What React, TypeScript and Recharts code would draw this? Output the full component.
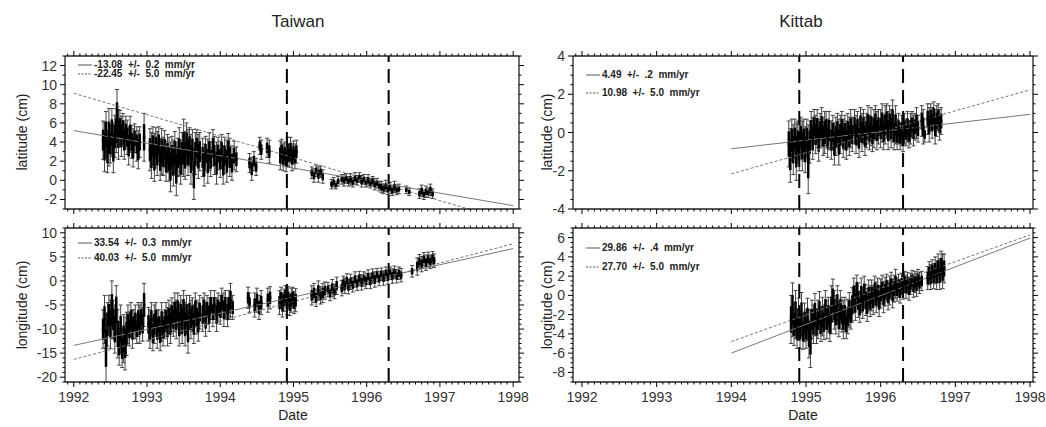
import React from 'react';
import { ComposedChart, Scatter, Line, XAxis, YAxis, ReferenceLine, ErrorBar } from 'recharts';

// [date (yr), value (cm), error (cm)]
type Pt = [number, number, number];
type Fit = [number, number][];

const EVENTS = [1994.91, 1996.3];
const YEARS = [1992, 1993, 1994, 1995, 1996, 1997, 1998];

const TW_LAT: Pt[] = [
  [1992.40,4.2,2.0],[1992.42,3.5,2.6],[1992.44,4.8,2.4],[1992.46,3.0,2.2],[1992.48,4.5,3.0],[1992.50,3.8,2.0],
  [1992.52,5.0,2.5],[1992.54,3.4,2.6],[1992.56,4.6,2.2],[1992.58,5.2,2.3],[1992.59,6.5,3.0],[1992.61,4.8,2.6],
  [1992.63,5.5,1.8],[1992.65,4.6,2.1],[1992.67,5.4,1.6],[1992.69,4.2,2.0],[1992.71,5.0,1.7],[1992.73,4.5,1.8],
  [1992.75,3.6,2.0],[1992.77,4.8,1.9],[1992.79,4.0,1.7],[1992.81,3.4,2.0],[1992.83,4.4,1.5],[1992.86,3.8,1.8],
  [1992.88,3.2,2.0],[1992.90,4.0,1.6],[1992.96,4.5,2.5],
  [1993.04,3.2,2.2],[1993.06,2.6,2.4],[1993.08,3.6,2.0],[1993.10,2.4,2.5],[1993.12,3.4,2.1],[1993.14,2.8,2.3],
  [1993.16,3.8,1.8],[1993.18,2.2,2.2],[1993.20,3.0,2.4],[1993.22,2.5,2.0],[1993.24,3.3,1.9],[1993.26,2.0,2.1],
  [1993.28,2.8,2.0],[1993.30,2.2,2.3],[1993.32,1.4,2.6],[1993.34,2.6,2.0],[1993.36,1.8,2.4],[1993.38,2.9,2.2],
  [1993.40,1.2,2.8],[1993.42,2.4,2.0],[1993.44,3.0,2.5],[1993.46,1.9,2.3],[1993.48,2.8,2.2],
  [1993.50,3.4,3.0],[1993.52,2.6,2.5],[1993.54,3.8,2.2],[1993.56,2.9,2.4],[1993.58,3.5,2.0],[1993.60,2.2,2.6],
  [1993.62,3.2,2.1],[1993.64,0.6,2.6],[1993.66,2.8,2.2],[1993.68,3.4,1.9],[1993.70,2.5,2.3],[1993.72,3.0,2.0],
  [1993.76,2.4,2.0],[1993.78,1.6,2.2],[1993.80,2.8,1.8],[1993.83,2.0,2.3],[1993.85,3.0,2.0],[1993.87,2.2,1.8],
  [1993.90,3.4,1.9],[1993.92,2.6,2.0],[1993.95,1.8,2.2],[1993.97,2.8,1.7],
  [1994.00,2.2,1.9],[1994.02,3.0,1.8],[1994.04,1.6,2.0],[1994.06,2.6,1.9],[1994.09,2.0,2.2],[1994.11,3.2,1.7],
  [1994.13,2.4,2.0],[1994.16,1.8,1.8],[1994.19,2.6,1.5],[1994.22,2.2,1.3],
  [1994.40,1.8,1.0],[1994.43,1.2,1.2],[1994.46,2.0,1.0],[1994.49,1.4,0.9],[1994.54,3.6,0.9],[1994.56,3.2,1.0],
  [1994.64,3.4,1.0],[1994.67,3.0,1.2],
  [1994.82,2.6,1.5],[1994.84,3.0,1.3],[1994.86,2.4,1.4],[1994.88,2.8,1.2],[1994.90,2.2,1.3],[1994.92,3.0,1.5],
  [1994.94,2.6,1.2],[1994.96,3.2,1.3],[1994.98,2.4,1.4],[1995.00,2.9,1.2],[1995.02,2.5,1.3],[1995.04,3.0,1.2],
  [1995.25,0.8,0.6],[1995.28,0.5,0.7],[1995.31,1.0,0.6],[1995.34,0.6,0.8],[1995.37,0.9,0.6],[1995.40,0.4,0.7],
  [1995.52,-0.4,0.5],[1995.55,-0.2,0.5],[1995.58,-0.5,0.4],[1995.61,-0.1,0.5],
  [1995.66,0.1,0.5],[1995.69,0.0,0.6],[1995.72,0.2,0.5],[1995.75,-0.1,0.5],[1995.78,0.1,0.6],[1995.81,-0.2,0.5],
  [1995.84,0.2,0.6],[1995.87,0.0,0.5],[1995.90,0.3,0.5],[1995.93,-0.1,0.6],[1995.96,0.1,0.5],[1995.99,-0.2,0.5],
  [1996.02,0.0,0.6],[1996.05,-0.3,0.5],[1996.08,-0.1,0.5],[1996.11,-0.4,0.6],[1996.14,-0.3,0.5],[1996.17,-0.6,0.5],
  [1996.20,-0.7,0.6],[1996.23,-0.9,0.5],[1996.26,-0.6,0.6],[1996.29,-1.0,0.5],[1996.32,-0.8,0.6],[1996.35,-1.1,0.5],
  [1996.38,-0.7,0.6],[1996.41,-1.0,0.5],[1996.44,-0.9,0.5],[1996.54,-1.0,0.4],[1996.58,-1.2,0.4],
  [1996.72,-1.4,0.5],[1996.75,-1.1,0.6],[1996.78,-1.5,0.5],[1996.81,-1.2,0.6],[1996.84,-1.3,0.5],[1996.87,-1.0,0.6],
  [1996.90,-1.4,0.5],
];

const TW_LON: Pt[] = [
  [1992.40,-10,4],[1992.42,-8,5],[1992.44,-14,7],[1992.46,-9,4.5],[1992.48,-7,4],[1992.50,-9,5],[1992.52,-6,6],
  [1992.54,-8,4],[1992.56,-10,5],[1992.58,-6,5],[1992.60,-11,5],[1992.62,-13,4.5],[1992.64,-10,5],[1992.66,-14,4],
  [1992.68,-12,5],[1992.70,-13,5.5],[1992.72,-11,4.5],[1992.74,-9,4],[1992.76,-10,3.5],[1992.78,-8,3.5],
  [1992.80,-10,4],[1992.82,-9,3],[1992.84,-8.5,3.5],[1992.86,-10,3],[1992.88,-8,3.5],[1992.90,-9,4],
  [1992.92,-7.5,3],[1992.94,-9,3.5],[1992.96,-5,4.5],
  [1993.02,-9,3.5],[1993.04,-10,4],[1993.06,-8,3.5],[1993.08,-11,3.5],[1993.10,-9,4],[1993.12,-8,3.5],
  [1993.14,-10,4],[1993.16,-9,3],[1993.18,-11,3.5],[1993.20,-8.5,4],[1993.22,-10,3.5],[1993.24,-9,3],
  [1993.26,-8,3.5],[1993.28,-9.5,4],[1993.30,-7.5,3.5],[1993.32,-9,4],[1993.34,-7,3.5],[1993.36,-8,3.5],
  [1993.38,-6.5,4],[1993.40,-8,4],[1993.42,-6,3.5],[1993.44,-9,4.5],[1993.46,-7,4],[1993.48,-8.5,4.5],
  [1993.50,-6,4],[1993.52,-9,4.5],[1993.54,-7,4],[1993.56,-10,5],[1993.58,-6.5,3.5],[1993.60,-8,4],
  [1993.62,-7,3.5],[1993.64,-9,4],[1993.66,-6,3.5],[1993.68,-7.5,3.5],[1993.70,-8.5,4],[1993.72,-6.5,3.5],
  [1993.76,-7,3.5],[1993.78,-5.5,3],[1993.80,-8,3.5],[1993.82,-6,3],[1993.85,-7,3.5],[1993.87,-5,3],
  [1993.90,-6.5,3],[1993.92,-5,3],[1993.95,-7,3.5],[1993.97,-5.5,3],[1994.00,-6,3],[1994.02,-4.5,3],
  [1994.05,-6,3.5],[1994.07,-5,3],[1994.10,-6.5,3],[1994.12,-5,3],[1994.14,-4,3.5],[1994.17,-5.5,2.5],
  [1994.38,-3.5,2.2],[1994.40,-4.5,2],[1994.47,-5,2.5],[1994.50,-4,2.5],[1994.53,-5.5,2.5],[1994.56,-4.5,2.5],
  [1994.65,-4,2.5],[1994.68,-3.5,2.3],
  [1994.81,-4.5,2.5],[1994.83,-3.5,2.2],[1994.85,-5,2.5],[1994.87,-4,2.3],[1994.89,-3,2],[1994.91,-4.5,2.5],
  [1994.93,-3.5,2.3],[1994.95,-5,2.2],[1994.97,-4,2.5],[1994.99,-3.5,2.2],[1995.01,-4.5,2.3],[1995.03,-4,2.4],
  [1995.25,-3,2],[1995.28,-2.5,2],[1995.31,-3.5,1.8],[1995.34,-2,2],[1995.37,-3,1.8],[1995.40,-2.5,2],[1995.43,-2,1.8],
  [1995.47,-1.8,1.5],[1995.50,-2.5,1.6],[1995.53,-1.5,1.8],[1995.56,-2.2,1.5],[1995.59,-1,1.8],
  [1995.66,-1.5,1.6],[1995.68,-0.5,1.5],[1995.70,-1,1.6],[1995.73,0,1.5],[1995.75,-1.2,1.5],[1995.78,-0.2,1.6],
  [1995.81,-0.8,1.5],[1995.84,0.3,1.6],[1995.87,-0.5,1.5],[1995.90,0.5,1.5],[1995.93,-0.3,1.6],[1995.96,0.4,1.5],
  [1995.99,0,1.6],[1996.02,0.8,1.5],[1996.05,0,1.6],[1996.08,1,1.5],[1996.11,0.3,1.6],[1996.14,1.2,1.4],
  [1996.17,0.5,1.5],[1996.20,1.4,1.3],[1996.23,0.6,1.5],[1996.26,1.5,1.4],[1996.29,0.8,1.5],[1996.32,1.6,1.3],
  [1996.35,1,1.5],[1996.38,1.8,1.3],[1996.41,1,1.4],[1996.44,1.6,1.3],[1996.47,1.2,1.4],[1996.62,2,1.2],
  [1996.69,3,1.8],[1996.72,4,1.5],[1996.75,3.5,1.6],[1996.78,4.5,1.4],[1996.81,3.8,1.6],[1996.84,4.5,1.5],
  [1996.87,4,1.4],[1996.90,4.8,1.3],[1996.92,4.2,1.4],
];

const KT_LAT: Pt[] = [
  [1994.77,-0.6,1.2],[1994.79,-1.2,1.4],[1994.81,-0.4,1.1],[1994.83,-0.9,1.3],[1994.85,-0.3,1.0],[1994.87,-1.0,1.5],
  [1994.89,-0.5,1.1],[1994.91,-0.8,1.2],[1994.93,-0.2,1.0],[1994.95,-0.7,1.3],[1994.97,-0.4,1.1],[1994.99,-0.9,1.2],
  [1995.01,-0.3,1.0],[1995.03,-1.4,1.8],[1995.05,-0.5,1.1],
  [1995.07,0.1,1.0],[1995.09,-0.3,1.1],[1995.11,0.3,0.9],[1995.13,-0.1,1.0],[1995.15,0.2,1.0],[1995.17,-0.4,1.1],
  [1995.19,0.1,0.9],[1995.21,0.3,1.0],[1995.23,-0.2,1.0],[1995.25,0.0,1.1],[1995.27,0.2,0.9],[1995.29,-0.3,1.0],
  [1995.31,0.1,1.0],[1995.34,-0.4,1.0],[1995.36,0.0,0.9],[1995.38,-0.6,1.1],[1995.40,-0.2,1.0],[1995.42,0.1,0.9],
  [1995.44,-0.5,1.2],[1995.46,-0.1,1.0],[1995.48,0.2,0.9],[1995.50,-0.3,1.0],[1995.52,0.0,0.9],[1995.54,-0.4,1.0],
  [1995.56,0.1,0.9],[1995.58,-0.2,1.0],[1995.60,0.2,1.0],[1995.62,-0.1,0.9],
  [1995.65,0.3,0.9],[1995.67,-0.1,1.0],[1995.69,0.2,0.9],[1995.71,-0.3,1.0],[1995.73,0.4,0.9],[1995.75,0.0,1.0],
  [1995.77,0.3,0.9],[1995.79,-0.2,1.0],[1995.81,0.1,0.9],[1995.83,0.4,1.0],[1995.85,0.0,0.9],[1995.87,0.3,1.0],
  [1995.89,-0.1,0.9],[1995.91,0.2,1.0],[1995.93,0.5,0.9],[1995.95,0.1,1.0],[1995.97,0.3,0.9],
  [1996.00,0.2,1.0],[1996.02,0.5,1.0],[1996.04,0.0,0.9],[1996.06,0.4,1.0],[1996.08,0.6,0.9],[1996.10,0.1,1.0],
  [1996.12,0.5,0.9],[1996.14,0.2,1.0],[1996.16,0.6,1.1],[1996.18,0.0,0.9],[1996.20,0.4,1.0],
  [1996.22,-0.1,0.8],[1996.24,0.2,0.8],[1996.26,-0.2,0.7],[1996.28,0.1,0.8],[1996.30,-0.3,0.7],[1996.32,0.2,0.8],
  [1996.34,0.0,0.7],[1996.36,0.3,0.8],[1996.38,-0.1,0.7],[1996.40,0.2,0.8],[1996.42,0.4,0.7],[1996.44,0.1,0.8],
  [1996.46,0.3,0.7],[1996.48,0.5,0.8],[1996.50,0.2,0.7],
  [1996.55,0.6,0.8],[1996.57,0.3,0.9],[1996.59,-0.1,0.4],[1996.63,0.7,0.8],[1996.65,0.4,0.9],[1996.67,0.8,0.7],
  [1996.69,0.5,0.8],[1996.71,0.9,0.7],[1996.73,0.3,0.9],[1996.75,0.6,0.8],[1996.77,0.8,0.7],[1996.79,0.4,0.8],
  [1996.81,0.6,0.7],
];

const KT_LON: Pt[] = [
  [1994.80,-2.5,2.5],[1994.82,-1.5,2.8],[1994.84,-3,2.2],[1994.86,-2,2.5],[1994.88,-3.5,2],
  [1994.90,-2.5,2.2],[1994.92,-3.5,2],[1994.94,-2,2.3],[1994.96,-3.8,1.8],[1994.98,-2.8,2],[1995.00,-3.5,2],
  [1995.02,-2.5,2.2],[1995.04,-4,2.5],[1995.06,-4.5,3],
  [1995.08,-2.5,2],[1995.10,-3,2],[1995.12,-2,2.2],[1995.14,-3.2,1.8],[1995.16,-2.5,2],[1995.18,-1.8,2.2],
  [1995.20,-3,1.8],[1995.22,-2.2,2],[1995.24,-2.8,1.8],[1995.26,-1.5,2],[1995.28,-2.5,2],[1995.30,-2,1.8],
  [1995.32,-3,1.8],[1995.34,-1.5,2.5],[1995.36,-0.5,2.2],[1995.38,-1.5,2],[1995.40,-2,2],[1995.42,-1,2],
  [1995.44,-2.5,1.8],[1995.46,-1.5,2],[1995.48,-2,1.8],[1995.50,-2.5,2],[1995.52,-2,1.8],[1995.54,-3,1.5],
  [1995.56,-2.2,1.8],[1995.58,-1.5,1.8],[1995.60,-2,1.5],
  [1995.62,-1,1.8],[1995.64,0,1.8],[1995.66,-0.8,1.8],[1995.68,0.5,1.6],[1995.70,-0.5,1.8],[1995.72,-1.2,1.6],
  [1995.74,0,1.8],[1995.76,-0.8,1.6],[1995.78,0.3,1.7],[1995.80,-0.5,1.6],[1995.82,-1,1.7],[1995.84,0,1.6],
  [1995.86,-0.6,1.6],[1995.88,0,1.6],[1995.90,-0.5,1.5],[1995.92,0.5,1.5],[1995.94,-0.2,1.6],[1995.96,0.3,1.5],
  [1995.98,-0.6,1.6],[1996.00,0.2,1.5],[1996.02,0.6,1.5],[1996.04,-0.2,1.6],[1996.06,0.4,1.5],[1996.08,0.8,1.4],
  [1996.10,0,1.5],[1996.12,0.5,1.5],[1996.14,1,1.4],[1996.16,0.2,1.5],[1996.18,0.7,1.4],[1996.20,1.2,1.5],
  [1996.22,0.6,1.2],[1996.24,1,1.2],[1996.26,0.4,1.2],[1996.28,1.2,1.1],[1996.30,0.8,1.2],[1996.32,1.4,1.1],
  [1996.34,0.9,1.2],[1996.36,1.3,1.1],[1996.38,0.7,1.2],[1996.40,1.2,1.1],[1996.42,1.5,1.1],[1996.44,1,1.2],
  [1996.46,1.4,1.1],[1996.48,1.1,1.2],[1996.50,1.6,1.1],[1996.52,1.3,1.1],[1996.55,1.5,1],
  [1996.63,1.8,1.2],[1996.65,2.3,1.2],[1996.67,1.9,1.3],[1996.69,2.5,1.2],[1996.71,2,1.3],[1996.73,2.6,1.4],
  [1996.75,2.1,1.5],[1996.77,2.8,1.5],[1996.79,2.2,1.6],[1996.81,3,1.6],[1996.83,2.5,1.8],[1996.85,2.8,1.5],
];

// fitted trends: solid = fit, dashed = model
const TW_LAT_FIT: Fit = [[1992, 5.2], [1998, -2.65]];
const TW_LAT_FIT2: Fit = [[1992, 9.1], [1998, -4.37]];
const TW_LON_FIT: Fit = [[1992, -13.4], [1998, 6.72]];
const TW_LON_FIT2: Fit = [[1992, -16.3], [1998, 7.72]];
const KT_LAT_FIT: Fit = [[1994, -0.85], [1998, 0.95]];
const KT_LAT_FIT2: Fit = [[1994, -2.16], [1998, 2.23]];
const KT_LON_FIT: Fit = [[1994, -6.0], [1998, 5.95]];
const KT_LON_FIT2: Fit = [[1994, -4.8], [1998, 6.28]];

const TW_LAT_RATES = ['-13.08  +/-  0.2  mm/yr', '-22.45  +/-  5.0  mm/yr'];
const TW_LON_RATES = ['33.54  +/-  0.3  mm/yr', '40.03  +/-  5.0  mm/yr'];
const KT_LAT_RATES = ['4.49  +/-  .2  mm/yr', '10.98  +/-  5.0  mm/yr'];
const KT_LON_RATES = ['29.86  +/-  .4  mm/yr', '27.70  +/-  5.0  mm/yr'];

const TW_LAT_TICKS = [-2, 0, 2, 4, 6, 8, 10, 12];
const TW_LON_TICKS = [-20, -15, -10, -5, 0, 5, 10];
const KT_LAT_TICKS = [-4, -2, 0, 2, 4];
const KT_LON_TICKS = [-8, -6, -4, -2, 0, 2, 4, 6];

const FONT = '"Liberation Sans", Arial, Helvetica, sans-serif';

const steps = (lo: number, hi: number, step: number) => {
  const out: number[] = [];
  for (let i = Math.ceil(lo / step - 1e-9); i * step <= hi + 1e-9; i++) out.push(+(i * step).toFixed(4));
  return out;
};

type PanelProps = {
  left: number; top: number; w: number; h: number;
  xDomain: [number, number]; yDomain: [number, number];
  yTicks: number[]; yMinor: number;
  pts: Pt[]; fit: Fit; fit2: Fit;
  rates: string[]; rateTop: number; rateGap: number;
  xLabels: boolean;
};

// axis band sizes (plot area = chart minus margin minus these)
const AX = { top: 10, bottom: 30, left: 40, right: 10 };

function Panel(p: PanelProps) {
  const M = { top: 2, right: 4, bottom: 14, left: 12 };
  const W = p.w + M.left + M.right + AX.left + AX.right;
  const H = p.h + M.top + M.bottom + AX.top + AX.bottom;
  const rows = p.pts.map(([x, y, e]) => ({ x, y, e, c: e * 0.55 }));
  const fitRows = p.fit.map(([x, y]) => ({ x, y }));
  const fit2Rows = p.fit2.map(([x, y]) => ({ x, y }));
  const xt = steps(p.xDomain[0], p.xDomain[1], 1 / 12);
  const yt = steps(p.yDomain[0], p.yDomain[1], p.yMinor);
  const isYear = (v: number) => Math.abs(v - Math.round(v)) < 1e-3 && YEARS.includes(Math.round(v));
  const isMajorY = (v: number) => p.yTicks.some((m) => Math.abs(m - v) < 1e-6);

  const xTick = (side: 'top' | 'bottom', labels: boolean) => (t: any) => {
    const major = isYear(t.payload.value);
    const d = side === 'top' ? -1 : 1;
    return (
      <g>
        <line x1={t.x} x2={t.x} y1={t.y} y2={t.y + d * (major ? 5 : 2.5)} stroke="#000" />
        {labels && major && (
          <text x={t.x} y={t.y + 20} textAnchor="middle" fontSize={14} fontFamily={FONT} fill="#333">
            {Math.round(t.payload.value)}
          </text>
        )}
      </g>
    );
  };
  const yTick = (side: 'left' | 'right') => (t: any) => {
    const major = isMajorY(t.payload.value);
    const d = side === 'left' ? -1 : 1;
    return (
      <g>
        <line x1={t.x} x2={t.x + d * (major ? 5 : 2.5)} y1={t.y} y2={t.y} stroke="#000" />
        {side === 'left' && major && (
          <text x={t.x - 8} y={t.y} dy="0.36em" textAnchor="end" fontSize={14} fontFamily={FONT} fill="#333">
            {t.payload.value}
          </text>
        )}
      </g>
    );
  };
  const mark = (s: any) => <rect x={s.cx - 1.25} y={s.cy - 1.5} width={2.5} height={3} fill="#000" />;
  const axisCommon = {
    type: 'number' as const, allowDataOverflow: true, interval: 0 as const, tickLine: false,
    tickSize: 0, tickMargin: 0, axisLine: { stroke: '#222', strokeWidth: 1.3 },
  };

  return (
    <div style={{ position: 'absolute', left: p.left - M.left - AX.left, top: p.top - M.top - AX.top }}>
      <ComposedChart width={W} height={H} margin={M}>
        <XAxis xAxisId="b" dataKey="x" domain={p.xDomain} ticks={xt} height={AX.bottom} {...axisCommon}
          tick={xTick('bottom', p.xLabels)} />
        <XAxis xAxisId="t" dataKey="x" orientation="top" domain={p.xDomain} ticks={xt} height={AX.top} {...axisCommon}
          tick={xTick('top', false)} />
        <YAxis yAxisId="l" domain={p.yDomain} ticks={yt} width={AX.left} {...axisCommon} tick={yTick('left')} />
        <YAxis yAxisId="r" orientation="right" domain={p.yDomain} ticks={yt} width={AX.right} {...axisCommon}
          tick={yTick('right')} />
        <Scatter xAxisId="b" yAxisId="l" data={rows} dataKey="y" isAnimationActive={false} shape={mark}>
          <ErrorBar dataKey="e" direction="y" width={2} stroke="#444" strokeWidth={1} isAnimationActive={false} />
          <ErrorBar dataKey="c" direction="y" width={0} stroke="#000" strokeWidth={2.5} isAnimationActive={false} />
        </Scatter>
        {EVENTS.map((d) => (
          <ReferenceLine key={d} xAxisId="b" yAxisId="l" x={d} stroke="#000" strokeWidth={2} strokeDasharray="14 7" />
        ))}
        <Line xAxisId="b" yAxisId="l" data={fitRows} dataKey="y" stroke="#777" strokeWidth={1}
          dot={false} isAnimationActive={false} />
        <Line xAxisId="b" yAxisId="l" data={fit2Rows} dataKey="y" stroke="#777" strokeWidth={1}
          strokeDasharray="3 2" dot={false} isAnimationActive={false} />
        <Line xAxisId="t" yAxisId="r" data={fitRows} dataKey="y" stroke="none" dot={false} isAnimationActive={false} />
      </ComposedChart>
      {p.rates.map((r, i) => (
        <div key={i} style={{
          position: 'absolute', left: M.left + AX.left + 13, top: M.top + AX.top + p.rateTop + i * p.rateGap - 5,
          display: 'flex', alignItems: 'center', height: 10, lineHeight: '10px',
          fontFamily: FONT, fontSize: 10, fontWeight: 'bold', color: '#222', whiteSpace: 'pre',
        }}>
          <svg width={14} height={4} style={{ marginRight: 2 }}>
            <line x1={0} x2={14} y1={2} y2={2} stroke="#555" strokeWidth={1} strokeDasharray={i ? '2 1.5' : undefined} />
          </svg>
          {r}
        </div>
      ))}
    </div>
  );
}

const label = (text: string, cx: number, cy: number, size: number, rotate = false): React.ReactElement => (
  <div style={{
    position: 'absolute', left: cx - 100, top: cy - 12, width: 200, height: 24, lineHeight: '24px',
    textAlign: 'center', fontFamily: FONT, fontSize: size, color: '#222',
    transform: rotate ? 'rotate(-90deg)' : undefined,
  }}>{text}</div>
);

export default function App() {
  const LX: [number, number] = [1991.88, 1998.08];
  const RX: [number, number] = [1991.88, 1998.04];
  return (
    <div style={{ position: 'absolute', left: 0, top: 0, width: 1046, height: 427, background: '#fff', overflow: 'hidden' }}>
      <Panel left={65} top={56} w={454} h={153} xDomain={LX} yDomain={[-3, 13]} yTicks={TW_LAT_TICKS} yMinor={1}
        pts={TW_LAT} fit={TW_LAT_FIT} fit2={TW_LAT_FIT2} rates={TW_LAT_RATES} rateTop={9} rateGap={9} xLabels={false} />
      <Panel left={65} top={228} w={454} h={154} xDomain={LX} yDomain={[-21, 11]} yTicks={TW_LON_TICKS} yMinor={1}
        pts={TW_LON} fit={TW_LON_FIT} fit2={TW_LON_FIT2} rates={TW_LON_RATES} rateTop={15} rateGap={15} xLabels />
      <Panel left={573} top={56} w={460} h={153} xDomain={RX} yDomain={[-4, 4]} yTicks={KT_LAT_TICKS} yMinor={0.5}
        pts={KT_LAT} fit={KT_LAT_FIT} fit2={KT_LAT_FIT2} rates={KT_LAT_RATES} rateTop={19} rateGap={18} xLabels={false} />
      <Panel left={573} top={228} w={460} h={154} xDomain={RX} yDomain={[-9, 7]} yTicks={KT_LON_TICKS} yMinor={0.5}
        pts={KT_LON} fit={KT_LON_FIT} fit2={KT_LON_FIT2} rates={KT_LON_RATES} rateTop={20} rateGap={19} xLabels />
      {label('Taiwan', 298, 22, 17)}
      {label('Kittab', 801, 22, 17)}
      {label('latitude (cm)', 22, 132, 14, true)}
      {label('longitude (cm)', 22, 305, 14, true)}
      {label('latitude (cm)', 547, 132, 14, true)}
      {label('longitude (cm)', 547, 305, 14, true)}
      {label('Date', 293, 415, 14)}
      {label('Date', 803, 415, 14)}
    </div>
  );
}
